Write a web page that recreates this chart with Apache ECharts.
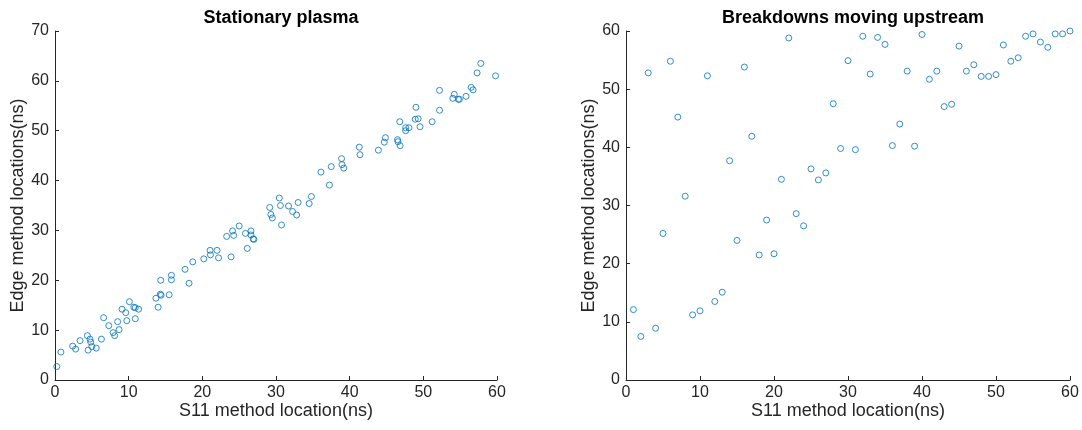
<!DOCTYPE html>
<html>
<head>
<meta charset="utf-8">
<script src="https://cdn.jsdelivr.net/npm/echarts@6/dist/echarts.min.js"></script>
<style>
  html, body { margin: 0; padding: 0; background: #fff; }
  #chart { width: 1082px; height: 430px; }
</style>
</head>
<body>
<div id="chart"></div>
<script>
// Stationary plasma: S11 location vs edge-method location (ns)
const stationaryS11 = [
  0.24, 0.8, 2.4, 2.8, 3.4, 4.4, 4.5, 4.75, 4.85, 5.0,
  5.6, 6.3, 6.6, 7.3, 7.9, 8.1, 8.5, 8.7, 9.1, 9.6,
  9.75, 10.1, 10.7, 10.9, 10.9, 11.35, 13.7, 14.0, 14.3, 14.4,
  14.35, 15.5, 15.8, 15.8, 17.65, 18.2, 18.7, 20.2, 21.05, 21.1,
  22.0, 22.2, 23.3, 23.9, 24.1, 24.25, 25.0, 25.85, 26.1, 26.6,
  26.6, 26.9, 27.0, 29.15, 29.3, 29.5, 30.45, 30.6, 30.75, 31.7,
  32.25, 32.8, 33.0, 34.5, 34.8, 36.1, 37.25, 37.5, 38.9, 38.95,
  39.2, 41.3, 41.4, 43.9, 44.7, 44.85, 46.5, 46.55, 46.85, 46.8,
  47.6, 47.6, 48.05, 49.0, 48.9, 49.3, 49.55, 51.2, 52.2, 52.2,
  54.0, 54.2, 54.75, 54.9, 55.8, 56.5, 56.75, 57.3, 57.8, 59.8
];
const stationaryEdge = [
  2.7, 5.6, 6.8, 6.2, 7.9, 8.9, 6.0, 8.2, 7.6, 6.7,
  6.4, 8.2, 12.5, 10.9, 9.5, 8.9, 11.7, 10.1, 14.2, 13.5,
  11.9, 15.7, 14.6, 14.5, 12.3, 14.2, 16.4, 14.6, 17.2, 17.0,
  20.0, 17.1, 21.0, 20.1, 22.2, 19.4, 23.7, 24.3, 26.0, 25.1,
  26.0, 24.5, 28.8, 24.7, 29.9, 29.0, 30.9, 29.4, 26.4, 29.9,
  29.1, 28.3, 28.2, 34.6, 33.2, 32.5, 36.5, 35.0, 31.1, 34.9,
  33.8, 33.1, 35.6, 35.4, 36.8, 41.7, 39.1, 42.8, 44.4, 43.2,
  42.5, 46.7, 45.2, 46.1, 47.7, 48.6, 48.2, 47.8, 47.0, 51.8,
  50.0, 50.6, 50.6, 54.7, 52.3, 52.4, 50.8, 51.8, 58.1, 54.1,
  56.5, 57.3, 56.3, 56.3, 56.9, 58.7, 58.2, 61.6, 63.5, 61.0
];

// Breakdowns moving upstream: one breakdown per S11 location 1..60 ns
const upstreamS11 = [
  1, 2, 3, 4, 5, 6, 7, 8, 9, 10,
  11, 12, 13, 14, 15, 16, 17, 18, 19, 20,
  21, 22, 23, 24, 25, 26, 27, 28, 29, 30,
  31, 32, 33, 34, 35, 36, 37, 38, 39, 40,
  41, 42, 43, 44, 45, 46, 47, 48, 49, 50,
  51, 52, 53, 54, 55, 56, 57, 58, 59, 60
];
const upstreamEdge = [
  12.1, 7.5, 52.8, 8.9, 25.2, 54.8, 45.2, 31.6, 11.2, 11.9,
  52.3, 13.5, 15.1, 37.7, 24.0, 53.8, 41.9, 21.5, 27.5, 21.7,
  34.5, 58.8, 28.6, 26.5, 36.3, 34.4, 35.6, 47.5, 39.8, 54.9,
  39.6, 59.1, 52.6, 58.9, 57.7, 40.3, 44.0, 53.1, 40.2, 59.4,
  51.7, 53.1, 47.0, 47.4, 57.4, 53.1, 54.2, 52.2, 52.2, 52.5,
  57.6, 54.8, 55.4, 59.1, 59.5, 58.1, 57.2, 59.5, 59.5, 60.0
];

const titles = ['Stationary plasma', 'Breakdowns moving upstream'];
const xName = 'S11 method location(ns)';
const yName = 'Edge method locations(ns)';
const xTicks = { min: 0, max: 60, interval: 10 };
const yTicksLeft = { min: 0, max: 70, interval: 10 };
const yTicksRight = { min: 0, max: 60, interval: 10 };

const FONT = '"Liberation Sans", Arial, Helvetica, sans-serif';
const AXIS_COLOR = '#262626';
const MARK_COLOR = '#0072BD';

function pairs(xs, ys) {
  return xs.map((x, i) => [x, ys[i]]);
}

function xAxisFor(gridIndex) {
  return {
    type: 'value', gridIndex,
    min: xTicks.min, max: xTicks.max, interval: xTicks.interval,
    name: xName, nameLocation: 'middle', nameGap: 22, nameMoveOverlap: false,
    nameTextStyle: { fontFamily: FONT, fontSize: 18, color: AXIS_COLOR },
    axisLine: { show: true, onZero: false, lineStyle: { color: AXIS_COLOR, width: 1 } },
    axisTick: { show: true, inside: true, length: 4, lineStyle: { color: AXIS_COLOR } },
    axisLabel: { fontFamily: FONT, fontSize: 16, color: AXIS_COLOR, margin: 5 },
    splitLine: { show: false }
  };
}

function yAxisFor(gridIndex, ticks) {
  return {
    type: 'value', gridIndex,
    min: ticks.min, max: ticks.max, interval: ticks.interval,
    name: yName, nameLocation: 'middle', nameGap: 27, nameRotate: 90,
    nameTextStyle: { fontFamily: FONT, fontSize: 18, color: AXIS_COLOR },
    axisLine: { show: true, onZero: false, lineStyle: { color: AXIS_COLOR, width: 1 } },
    axisTick: { show: true, inside: true, length: 4, lineStyle: { color: AXIS_COLOR } },
    axisLabel: { fontFamily: FONT, fontSize: 16, color: AXIS_COLOR, margin: 6 },
    splitLine: { show: false }
  };
}

const circleStyle = {
  color: 'rgba(0,0,0,0)',
  borderColor: MARK_COLOR,
  borderWidth: 1
};

const chart = echarts.init(document.getElementById('chart'), null, { renderer: 'canvas' });
chart.setOption({
  animation: false,
  backgroundColor: '#ffffff',
  title: [
    { text: titles[0], left: 276, top: 4, textAlign: 'center',
      textStyle: { fontFamily: FONT, fontSize: 18, fontWeight: 'bold', color: '#000' } },
    { text: titles[1], left: 848, top: 4, textAlign: 'center',
      textStyle: { fontFamily: FONT, fontSize: 18, fontWeight: 'bold', color: '#000' } }
  ],
  grid: [
    { left: 55, right: 585, top: 31, bottom: 50 },
    { left: 626, right: 12, top: 31, bottom: 50 }
  ],
  xAxis: [xAxisFor(0), xAxisFor(1)],
  yAxis: [yAxisFor(0, yTicksLeft), yAxisFor(1, yTicksRight)],
  series: [
    { type: 'scatter', xAxisIndex: 0, yAxisIndex: 0, symbol: 'circle', symbolSize: 6,
      itemStyle: circleStyle, data: pairs(stationaryS11, stationaryEdge) },
    { type: 'scatter', xAxisIndex: 1, yAxisIndex: 1, symbol: 'circle', symbolSize: 6,
      itemStyle: circleStyle, data: pairs(upstreamS11, upstreamEdge) }
  ]
});
</script>
</body>
</html>
